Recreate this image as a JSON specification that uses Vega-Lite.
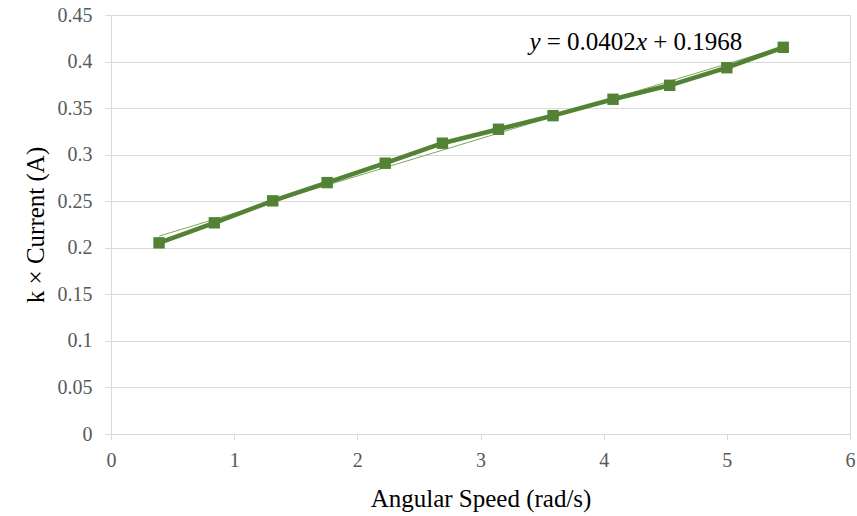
{
  "$schema": "https://vega.github.io/schema/vega-lite/v6.json",
  "width": 739,
  "height": 419,
  "autosize": {"type": "none"},
  "padding": {"left": 111, "top": 15, "right": 7, "bottom": 82},
  "background": "white",
  "config": {
    "view": {"stroke": "#d9d9d9", "strokeWidth": 1},
    "font": "Liberation Serif",
    "axis": {"labelFont": "Liberation Serif", "titleFont": "Liberation Serif"},
    "text": {"font": "Liberation Serif"}
  },
  "datasets": {
    "points": [
      {"speed": 0.390, "current": 0.2053},
      {"speed": 0.839, "current": 0.2268},
      {"speed": 1.313, "current": 0.2504},
      {"speed": 1.755, "current": 0.2700},
      {"speed": 2.226, "current": 0.2908},
      {"speed": 2.691, "current": 0.3123},
      {"speed": 3.146, "current": 0.3273},
      {"speed": 3.589, "current": 0.3419},
      {"speed": 4.076, "current": 0.3595},
      {"speed": 4.536, "current": 0.3745},
      {"speed": 5.000, "current": 0.3934},
      {"speed": 5.458, "current": 0.4153}
    ],
    "equation": [
      {"part": "y", "at": 3.443, "italic": true},
      {"part": "=", "at": 3.596, "italic": false},
      {"part": "0.0402", "at": 3.982, "italic": false},
      {"part": "x", "at": 4.307, "italic": true},
      {"part": "+", "at": 4.460, "italic": false},
      {"part": "0.1968", "at": 4.847, "italic": false}
    ]
  },
  "layer": [
    {
      "data": {"name": "points"},
      "transform": [{"regression": "current", "on": "speed"}],
      "mark": {"type": "line", "color": "#79a95a", "strokeWidth": 1},
      "encoding": {
        "x": {
          "field": "speed",
          "type": "quantitative",
          "scale": {"domain": [0, 6], "nice": false, "zero": false},
          "axis": {
            "values": [0, 1, 2, 3, 4, 5, 6],
            "format": "d",
            "grid": false,
            "ticks": true,
            "tickSize": 6,
            "tickColor": "#d9d9d9",
            "domainColor": "#d9d9d9",
            "labelFlush": false,
            "labelFont": "Liberation Serif",
            "labelFontSize": 20,
            "labelColor": "#595959",
            "labelPadding": 10,
            "title": "Angular Speed (rad/s)",
            "titleFont": "Liberation Serif",
            "titleFontSize": 25,
            "titleFontWeight": "normal",
            "titleColor": "#000000",
            "titleBaseline": "alphabetic",
            "titleY": 72
          }
        },
        "y": {
          "field": "current",
          "type": "quantitative",
          "scale": {"domain": [0, 0.45], "nice": false},
          "axis": {
            "values": [0, 0.05, 0.1, 0.15, 0.2, 0.25, 0.3, 0.35, 0.4, 0.45],
            "format": ".2~f",
            "grid": true,
            "gridColor": "#d9d9d9",
            "ticks": true,
            "tickSize": 6,
            "tickColor": "#d9d9d9",
            "domainColor": "#d9d9d9",
            "labelFlush": false,
            "labelFont": "Liberation Serif",
            "labelFontSize": 20,
            "labelColor": "#595959",
            "labelPadding": 13,
            "title": "k × Current (A)",
            "titleFont": "Liberation Serif",
            "titleFontSize": 25,
            "titleFontWeight": "normal",
            "titleColor": "#000000",
            "titleBaseline": "alphabetic",
            "titleX": -68
          }
        }
      }
    },
    {
      "data": {"name": "points"},
      "mark": {"type": "line", "color": "#548235", "strokeWidth": 4.5},
      "encoding": {
        "x": {"field": "speed", "type": "quantitative"},
        "y": {"field": "current", "type": "quantitative"}
      }
    },
    {
      "data": {"name": "points"},
      "mark": {"type": "point", "shape": "square", "filled": true, "size": 130, "color": "#548235", "opacity": 1},
      "encoding": {
        "x": {"field": "speed", "type": "quantitative"},
        "y": {"field": "current", "type": "quantitative"}
      }
    },
    {
      "data": {"name": "equation"},
      "transform": [{"filter": "datum.italic"}],
      "mark": {"type": "text", "font": "Liberation Serif", "fontStyle": "italic", "fontSize": 25, "align": "center", "baseline": "alphabetic", "color": "#000000"},
      "encoding": {
        "x": {"field": "at", "type": "quantitative"},
        "y": {"datum": 0.4124, "type": "quantitative"},
        "text": {"field": "part"}
      }
    },
    {
      "data": {"name": "equation"},
      "transform": [{"filter": "!datum.italic"}],
      "mark": {"type": "text", "font": "Liberation Serif", "fontSize": 25, "align": "center", "baseline": "alphabetic", "color": "#000000"},
      "encoding": {
        "x": {"field": "at", "type": "quantitative"},
        "y": {"datum": 0.4124, "type": "quantitative"},
        "text": {"field": "part"}
      }
    }
  ]
}
